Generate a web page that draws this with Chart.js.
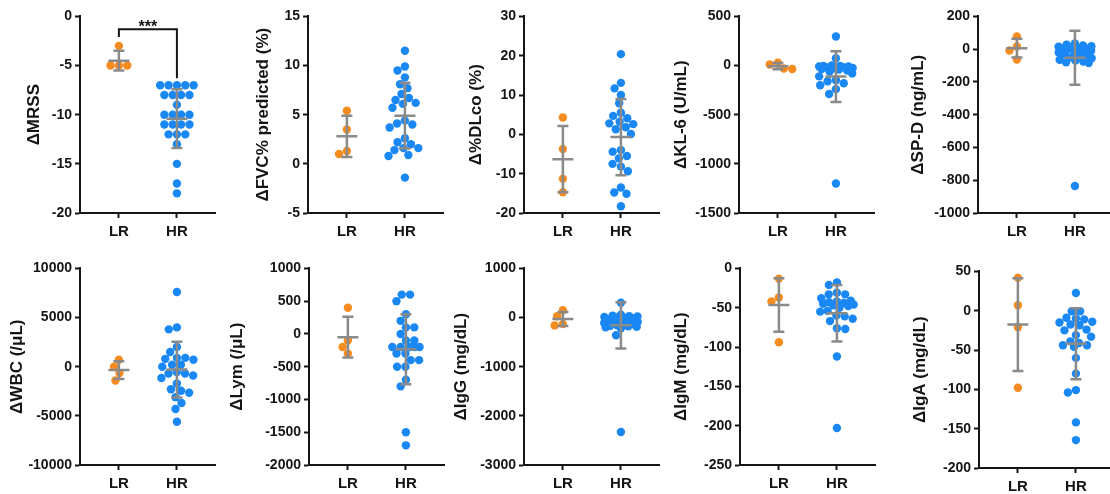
<!DOCTYPE html>
<html>
<head>
<meta charset="utf-8">
<script src="https://cdn.jsdelivr.net/npm/chart.js@4.4.1/dist/chart.umd.min.js"></script>
<style>
  html, body { margin: 0; padding: 0; background: #fff; overflow: hidden; }
  body { width: 1110px; height: 494px; position: relative; }
  canvas { position: absolute; }
</style>
</head>
<body>
<script>
const groups = ['LR', 'HR'];

// change from baseline per patient, low-risk (LR) and high-risk (HR) groups
const mrssLR = [-3, -5, -5, -5];
const mrssHR = [-7, -7, -7, -7, -7, -8, -8, -8, -8, -9, -10, -10, -10, -10, -11, -11, -11, -11, -12, -12, -12, -13, -15, -17, -18];
const mrssMean = [-4.5, -10.4];
const mrssSD = [1.0, 3.0];

const fvcLR = [5.4, 3.5, 1.0, 1.3];
const fvcHR = [11.5, 9.9, 9.5, 8.8, 8.1, 7.7, 7.1, 6.7, 6.5, 6.2, 6.1, 5.7, 4.4, 4.1, 4.0, 3.7, 2.6, 2.2, 2.0, 1.6, 1.6, 1.4, 0.9, 0.8, -1.4];
const fvcMean = [2.8, 4.9];
const fvcSD = [2.1, 3.35];

const dlcoLR = [4.3, -3.7, -11.3, -14.7];
const dlcoHR = [20.4, 13.1, 11.7, 10.0, 7.9, 5.5, 4.7, 4.1, 3.2, 2.8, 2.6, 1.8, 1.3, 0.1, -4.0, -4.4, -5.5, -6.1, -7.5, -8.2, -9.4, -13.5, -14.8, -15.1, -18.3];
const dlcoMean = [-6.3, -0.7];
const dlcoSD = [8.4, 9.7];

const kl6LR = [10, -35, -30, 30];
const kl6HR = [295, 75, 0, -5, -5, -10, -10, -15, -20, -20, -25, -30, -35, -40, -50, -60, -80, -110, -150, -160, -180, -200, -240, -290, -1200];
const kl6Mean = [-6, -112];
const kl6SD = [32, 258];

const spdLR = [77, 16, -8, -63];
const spdHR = [35, 28, 22, 18, 15, 10, 8, 5, 2, 0, -5, -10, -15, -20, -30, -38, -42, -50, -55, -65, -70, -75, -80, -85, -835];
const spdMean = [6, -52];
const spdSD = [57, 165];

const wbcLR = [700, 0, -650, -1400];
const wbcHR = [7600, 4000, 3800, 2000, 1500, 900, 900, 800, 700, 200, 200, 0, -550, -700, -700, -900, -1150, -1700, -2300, -2450, -2650, -3100, -3700, -4300, -5600];
const wbcMean = [-340, -290];
const wbcSD = [900, 2840];

const lymLR = [400, -100, -200, -300];
const lymHR = [600, 600, 500, 300, 200, 100, 100, 0, -100, -100, -200, -200, -200, -200, -200, -300, -300, -400, -400, -500, -500, -700, -800, -1500, -1700];
const lymMean = [-50, -233];
const lymSD = [311, 535];

const iggLR = [150, 25, -160, -130];
const iggHR = [300, 60, 40, 30, 20, 10, 0, -10, -20, -40, -50, -60, -70, -90, -110, -130, -150, -160, -170, -180, -190, -200, -220, -360, -2330];
const iggMean = [-30, -158];
const iggSD = [143, 471];

const igmLR = [-13, -37, -42, -94];
const igmHR = [-18, -21, -31, -33, -33, -38, -41, -42, -43, -44, -45, -46, -47, -48, -50, -54, -55, -60, -61, -64, -67, -76, -77, -112, -203];
const igmMean = [-46.5, -57];
const igmSD = [34, 36];

const igaLR = [42, 7, -21, -98];
const igaHR = [22.5, -0.7, -0.7, -9, -10, -11, -14, -15, -17.6, -18.4, -24, -25, -31, -33, -39, -41, -44, -44, -46, -60, -80, -101, -104, -142, -164.5];
const igaMean = [-17.6, -42];
const igaSD = [59, 45];

const panels = [
  { title: 'ΔMRSS', lr: mrssLR, hr: mrssHR, mean: mrssMean, sd: mrssSD, min: -20, max: 0, step: 5, sig: '***' },
  { title: 'ΔFVC% predicted (%)', lr: fvcLR, hr: fvcHR, mean: fvcMean, sd: fvcSD, min: -5, max: 15, step: 5 },
  { title: 'Δ%DLco (%)', lr: dlcoLR, hr: dlcoHR, mean: dlcoMean, sd: dlcoSD, min: -20, max: 30, step: 10 },
  { title: 'ΔKL-6 (U/mL)', lr: kl6LR, hr: kl6HR, mean: kl6Mean, sd: kl6SD, min: -1500, max: 500, step: 500 },
  { title: 'ΔSP-D (ng/mL)', lr: spdLR, hr: spdHR, mean: spdMean, sd: spdSD, min: -1000, max: 200, step: 200 },
  { title: 'ΔWBC (/μL)', lr: wbcLR, hr: wbcHR, mean: wbcMean, sd: wbcSD, min: -10000, max: 10000, step: 5000 },
  { title: 'ΔLym (/μL)', lr: lymLR, hr: lymHR, mean: lymMean, sd: lymSD, min: -2000, max: 1000, step: 500 },
  { title: 'ΔIgG (mg/dL)', lr: iggLR, hr: iggHR, mean: iggMean, sd: iggSD, min: -3000, max: 1000, step: 1000 },
  { title: 'ΔIgM (mg/dL)', lr: igmLR, hr: igmHR, mean: igmMean, sd: igmSD, min: -250, max: 0, step: 50 },
  { title: 'ΔIgA (mg/dL)', lr: igaLR, hr: igaHR, mean: igaMean, sd: igaSD, min: -200, max: 50, step: 50 }
];

// canvas left edge, y-axis line x, plot top / bottom (page pixels)
const boxes = [
  { left: 24, axisX: 80, top: 15, bottom: 213 },
  { left: 253, axisX: 308, top: 15, bottom: 213 },
  { left: 466, axisX: 524, top: 15, bottom: 213 },
  { left: 671, axisX: 739, top: 15, bottom: 213 },
  { left: 908, axisX: 978, top: 15, bottom: 213 },
  { left: 7, axisX: 80, top: 267, bottom: 465 },
  { left: 227, axisX: 309, top: 267, bottom: 465 },
  { left: 451, axisX: 524, top: 267, bottom: 465 },
  { left: 671, axisX: 740, top: 267, bottom: 465 },
  { left: 910, axisX: 979, top: 270, bottom: 468 }
];

const PAD_TOP = 10;
const PAD_RIGHT = 2;
const X_AXIS_H = 40;
const PLOT_W = 138;
const X_MIN = 0.33;
const X_MAX = 2.67;
const DOT_R = 4.2;
const MAX_SPREAD = 17;   // widest sideways offset of a dot, px
const INK = '#151515';
const ORANGE = '#F68B1F';
const BLUE = '#1A88F4';
const GREY = '#8a8a8a';

Chart.defaults.font.family = '"Liberation Sans", Arial, sans-serif';
Chart.defaults.font.weight = 'bold';
Chart.defaults.color = INK;

// spread points sideways so dots don't overlap; equal values sit in a centred row.
// Dense clusters are kept inside MAX_SPREAD and allowed to overlap.
function swarmOffsets(values, pxPerY, diam) {
  const idx = values.map((v, i) => i).sort((a, b) => values[b] - values[a]);
  const placed = [];
  const off = new Array(values.length).fill(0);
  const gap = (x, y) => placed.reduce((m, p) => Math.min(m, Math.hypot(p.x - x, p.y - y)), Infinity);
  const place = (r, x, y) => { off[r] = x; placed.push({ x, y }); };
  let i = 0;
  while (i < idx.length) {
    let j = i;
    while (j + 1 < idx.length && values[idx[j + 1]] === values[idx[i]]) j++;
    const run = idx.slice(i, j + 1);
    const y = -values[run[0]] * pxPerY;
    const row = run.map((_, n) => (n - (run.length - 1) / 2) * diam);
    if (run.length > 1 && row.every(x => gap(x, y) >= diam - 0.01 && Math.abs(x) <= MAX_SPREAD)) {
      run.forEach((r, n) => place(r, row[n], y));
    } else {
      run.forEach(r => {
        const cands = [0];
        placed.forEach(p => {
          const dy = Math.abs(p.y - y);
          if (dy < diam) {
            const dx = Math.sqrt(diam * diam - dy * dy);
            cands.push(p.x + dx, p.x - dx);
          }
        });
        cands.sort((a, b) => Math.abs(a) - Math.abs(b) || a - b);
        let x = cands.find(c => Math.abs(c) <= MAX_SPREAD && gap(c, y) >= diam - 0.01);
        if (x === undefined) {
          // no free spot: take the least crowded place inside the band
          let best = -1;
          for (let c = 0; c <= MAX_SPREAD; c += 0.5) {
            [-c, c].forEach(t => {
              const g = gap(t, y);
              if (g > best + 0.01) { best = g; x = t; }
            });
          }
        }
        place(r, x, y);
      });
    }
    i = j + 1;
  }
  return off;
}

// mean line with SD whiskers, plus the significance bracket where given
const meanSdBars = {
  id: 'meanSdBars',
  afterDatasetsDraw(chart, args, opts) {
    const { ctx, scales: { x, y } } = chart;
    ctx.save();
    ctx.strokeStyle = GREY;
    ctx.lineWidth = 2.5;
    ctx.lineCap = 'butt';
    opts.mean.forEach((m, i) => {
      const cx = x.getPixelForValue(i + 1);
      const yt = y.getPixelForValue(m + opts.sd[i]);
      const yb = y.getPixelForValue(m - opts.sd[i]);
      const ym = y.getPixelForValue(m);
      ctx.beginPath();
      ctx.moveTo(cx, yt); ctx.lineTo(cx, yb);
      ctx.moveTo(cx - 5.5, yt); ctx.lineTo(cx + 5.5, yt);
      ctx.moveTo(cx - 5.5, yb); ctx.lineTo(cx + 5.5, yb);
      ctx.moveTo(cx - 10.5, ym); ctx.lineTo(cx + 10.5, ym);
      ctx.stroke();
    });
    if (opts.sig) {
      const x1 = x.getPixelForValue(1);
      const x2 = x.getPixelForValue(2);
      const top = y.getPixelForValue(-1.3);
      ctx.strokeStyle = INK;
      ctx.lineWidth = 2;
      ctx.beginPath();
      ctx.moveTo(x1, y.getPixelForValue(-2.1));
      ctx.lineTo(x1, top);
      ctx.lineTo(x2, top);
      ctx.lineTo(x2, y.getPixelForValue(-6.3));
      ctx.stroke();
      ctx.fillStyle = INK;
      ctx.font = 'bold 16px "Liberation Sans", Arial, sans-serif';
      ctx.textAlign = 'center';
      ctx.textBaseline = 'alphabetic';
      ctx.fillText(opts.sig, (x1 + x2) / 2, top + 3);
    }
    ctx.restore();
  }
};

panels.forEach((p, k) => {
  const box = boxes[k];
  const plotH = box.bottom - box.top;
  const axisW = box.axisX - box.left;
  const w = axisW + PLOT_W + PAD_RIGHT;
  const h = PAD_TOP + plotH + X_AXIS_H;

  const canvas = document.createElement('canvas');
  canvas.width = w;
  canvas.height = h;
  canvas.style.left = box.left + 'px';
  canvas.style.top = (box.top - PAD_TOP) + 'px';
  canvas.style.width = w + 'px';
  canvas.style.height = h + 'px';
  document.body.appendChild(canvas);

  const pxPerY = plotH / (p.max - p.min);
  const pxPerX = PLOT_W / (X_MAX - X_MIN);
  const toPoints = (vals, g) => {
    const off = swarmOffsets(vals, pxPerY, DOT_R * 2 + 0.1);
    return vals.map((v, i) => ({ x: g + off[i] / pxPerX, y: v }));
  };

  new Chart(canvas, {
    type: 'scatter',
    data: {
      datasets: [
        { label: groups[0], data: toPoints(p.lr, 1), backgroundColor: ORANGE, pointRadius: DOT_R, pointBorderWidth: 0 },
        { label: groups[1], data: toPoints(p.hr, 2), backgroundColor: BLUE, pointRadius: DOT_R, pointBorderWidth: 0 }
      ]
    },
    options: {
      responsive: false,
      animation: false,
      events: [],
      layout: { padding: { top: PAD_TOP, right: PAD_RIGHT, left: 0, bottom: 0 } },
      plugins: {
        legend: { display: false },
        tooltip: { enabled: false },
        meanSdBars: { mean: p.mean, sd: p.sd, sig: p.sig }
      },
      scales: {
        x: {
          type: 'linear',
          min: X_MIN,
          max: X_MAX,
          afterBuildTicks: s => { s.ticks = [{ value: 1 }, { value: 2 }]; },
          afterFit: s => { s.height = X_AXIS_H; },
          ticks: { autoSkip: false, maxRotation: 0, padding: 5, font: { size: 15 }, callback: v => groups[v - 1] },
          grid: { drawOnChartArea: false, drawTicks: true, tickLength: 5, tickWidth: 2, color: INK },
          border: { display: true, color: INK, width: 2 }
        },
        y: {
          min: p.min,
          max: p.max,
          afterFit: s => { s.width = axisW; },
          ticks: { stepSize: p.step, padding: 3, font: { size: 14 }, callback: v => String(v) },
          grid: { drawOnChartArea: false, drawTicks: true, tickLength: 5, tickWidth: 2, color: INK },
          border: { display: true, color: INK, width: 2 },
          title: { display: true, text: p.title, padding: 0, font: { size: 17, lineHeight: 1.2 } }
        }
      }
    },
    plugins: [meanSdBars]
  });
});
</script>
</body>
</html>
